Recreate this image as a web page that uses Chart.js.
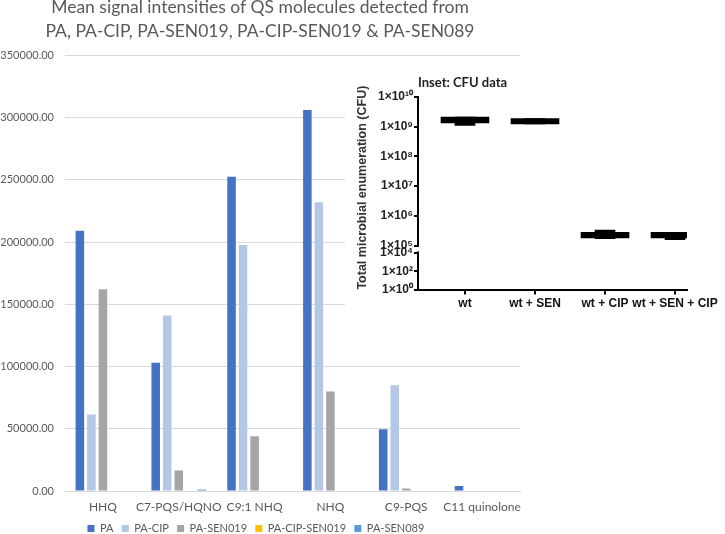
<!DOCTYPE html>
<html lang="en">
<head>
  <meta charset="UTF-8" />
  <title>QS molecules - mean signal intensities</title>
  <script src="https://cdn.jsdelivr.net/npm/chart.js"></script>
  <style>
    body { margin: 0; background: #fff; }
    .wrap { position: relative; width: 725px; height: 534px; }
    .inset { position: absolute; left: 345px; top: 68px; width: 380px; height: 245px; background: #fff; }
  </style>
</head>
<body>
  <div class="wrap">
    <canvas id="qsChart" width="725" height="534"></canvas>
    <div class="inset">
      <canvas id="cfuChart" width="380" height="245"></canvas>
    </div>
  </div>

  <script>
    // main chart data
    const molecules = ['HHQ', 'C7-PQS/HQNO', 'C9:1 NHQ', 'NHQ', 'C9-PQS', 'C11 quinolone'];
    const paVals        = [209000, 103000, 252500, 306000, 49500, 4000];
    const paCipVals     = [61500, 141000, 197500, 232000, 85000, 0];
    const paSen019Vals  = [162000, 16500, 44000, 80000, 2000, 0];
    const paCipSen019Vals = [0, 0, 0, 0, 0, 0];
    const paSen089Vals  = [0, 1200, 0, 0, 0, 0];
    const yTicks = [0, 50000, 100000, 150000, 200000, 250000, 300000, 350000];

    // inset (CFU) data
    const cfuGroups = ['wt', 'wt + SEN', 'wt + CIP', 'wt + SEN + CIP'];
    const cfuMin = [1.1e9, 1.23e9, 1.7e5, 1.56e5];
    const cfuQ1  = [1.35e9, 1.23e9, 1.8e5, 1.8e5];
    const cfuQ3  = [2.1e9, 1.86e9, 2.8e5, 2.8e5];
    const cfuMax = [2.1e9, 1.86e9, 3.3e5, 2.8e5];
    const cfuTicksHi = [1e5, 1e6, 1e7, 1e8, 1e9, 1e10];
    const cfuTicksLo = [1, 1e2, 1e4];

    const grey = '#595959';
    const lato = 'Lato, "Liberation Sans", sans-serif';

    new Chart(document.getElementById('qsChart').getContext('2d'), {
      type: 'bar',
      data: {
        labels: molecules,
        datasets: [
          { label: 'PA', data: paVals, backgroundColor: '#4472C4' },
          { label: 'PA-CIP', data: paCipVals, backgroundColor: '#B4C7E7' },
          { label: 'PA-SEN019', data: paSen019Vals, backgroundColor: '#A5A5A5' },
          { label: 'PA-CIP-SEN019', data: paCipSen019Vals, backgroundColor: '#FFC000' },
          { label: 'PA-SEN089', data: paSen089Vals, backgroundColor: '#5B9BD5' }
        ]
      },
      options: {
        responsive: false,
        animation: false,
        categoryPercentage: 0.76,
        barPercentage: 0.74,
        // negative bottom padding lets the legend's built-in bottom margin fall off the canvas
        layout: { padding: { left: 0, right: 205, top: -4, bottom: -10 } },
        scales: {
          x: {
            grid: { display: false, drawTicks: false },
            border: { color: '#D9D9D9' },
            ticks: { color: grey, font: { family: lato, size: 12, lineHeight: 1 }, padding: 10, maxRotation: 0, autoSkip: false }
          },
          y: {
            min: 0,
            max: 350000,
            afterBuildTicks: axis => { axis.ticks = yTicks.map(v => ({ value: v })); },
            afterFit: a => { a.width = 65; },
            grid: { color: '#D9D9D9', drawTicks: false },
            border: { display: false },
            ticks: {
              color: grey,
              font: { family: lato, size: 11 },
              padding: 11,
              callback: v => Number(v).toFixed(2)
            }
          }
        },
        plugins: {
          title: {
            display: true,
            text: ['Mean signal intensities of QS molecules detected from', 'PA, PA-CIP, PA-SEN019, PA-CIP-SEN019 & PA-SEN089'],
            color: grey,
            font: { family: lato, size: 17.5, weight: 'normal', lineHeight: 1.35 },
            padding: { top: 0, bottom: 12 }
          },
          legend: {
            position: 'bottom',
            labels: {
              color: grey,
              font: { family: lato, size: 11 },
              boxWidth: 7,
              boxHeight: 7,
              padding: 0,
              // trailing space keeps the item gap wide while the legend stays short
              generateLabels: chart => Chart.defaults.plugins.legend.labels.generateLabels(chart)
                .map(item => Object.assign(item, { text: item.text + '\u2003' }))
            }
          },
          tooltip: { enabled: false }
        }
      }
    });

    // superscript helper for 1x10^n tick labels
    const sup = { '0': '⁰', '1': '¹', '2': '²', '3': '³', '4': '⁴', '5': '⁵', '6': '⁶', '7': '⁷', '8': '⁸', '9': '⁹' };
    function powLabel(v) {
      const e = Math.round(Math.log10(v));
      return '1×10' + String(e).split('').map(c => sup[c]).join('');
    }

    // hides the axis line between the two log segments
    const axisBreak = {
      id: 'axisBreak',
      afterDraw(chart) {
        const hi = chart.scales.yHi, lo = chart.scales.yLo;
        const x = chart.chartArea.left;
        const y1 = hi.getPixelForValue(1e5) + 1.5;
        const y2 = lo.getPixelForValue(1e4) - 1.5;
        const c = chart.ctx;
        c.save();
        c.fillStyle = '#fff';
        c.fillRect(x - 2, y1, 4, y2 - y1);
        c.restore();
      }
    };

    const arialB = '"Liberation Sans", Arial, sans-serif';
    const fixY = a => { a.width = 69; };

    new Chart(document.getElementById('cfuChart').getContext('2d'), {
      type: 'bar',
      data: {
        datasets: [
          {
            label: 'range',
            data: cfuGroups.map((g, i) => ({ x: i + 1, y: [cfuMin[i], cfuMax[i]] })),
            backgroundColor: '#000',
            barThickness: 20,
            grouped: false,
            xAxisID: 'x',
            yAxisID: 'yHi'
          },
          {
            label: 'box',
            data: cfuGroups.map((g, i) => ({ x: i + 1, y: [cfuQ1[i], cfuQ3[i]] })),
            backgroundColor: '#000',
            barThickness: 48,
            grouped: false,
            xAxisID: 'x',
            yAxisID: 'yHi'
          }
        ]
      },
      plugins: [axisBreak],
      options: {
        responsive: false,
        animation: false,
        layout: { padding: { left: 4, right: 38, top: 0, bottom: 0 } },
        scales: {
          x: {
            type: 'linear',
            offset: false,
            min: 0.329,
            max: 4.171,
            afterBuildTicks: axis => { axis.ticks = cfuGroups.map((g, i) => ({ value: i + 1 })); },
            afterFit: a => { a.paddingLeft = 0; a.paddingRight = 0; },
            grid: { display: true, offset: false, drawOnChartArea: false, tickLength: 5, color: '#000', lineWidth: 2 },
            border: { color: '#000', width: 2 },
            ticks: {
              color: '#111',
              font: { family: arialB, size: 12, weight: 'bold' },
              maxRotation: 0,
              minRotation: 0,
              autoSkip: false,
              padding: 2,
              callback: v => cfuGroups[Math.round(v) - 1]
            }
          },
          xt: {
            type: 'linear',
            position: 'top',
            offset: false,
            grid: { display: false },
            border: { display: false },
            ticks: { display: false },
            afterFit: a => { a.paddingLeft = 0; a.paddingRight = 0; },
            title: {
              display: true,
              text: 'Inset: CFU data',
              align: 'start',
              color: '#222',
              font: { family: lato, size: 13, weight: 'bold', lineHeight: 1 },
              padding: { top: 8, bottom: 0 }
            }
          },
          yLo: {
            type: 'logarithmic',
            position: 'left',
            stack: 'cfu',
            stackWeight: 46,
            min: 1,
            max: Math.pow(10, 4.8),
            afterBuildTicks: axis => { axis.ticks = cfuTicksLo.map(v => ({ value: v })); },
            afterFit: fixY,
            grid: { display: true, drawOnChartArea: false, tickLength: 4, color: '#000', lineWidth: 2 },
            border: { color: '#000', width: 2 },
            ticks: { color: '#222', font: { family: arialB, size: 12, weight: 'bold' }, padding: 1, autoSkip: false, callback: v => powLabel(v) },
            title: {
              display: true,
              text: 'Total microbial enumeration (CFU)',
              align: 'start',
              color: '#333',
              font: { family: arialB, size: 12.5, weight: 'bold' },
              padding: { top: 6, bottom: 0 }
            }
          },
          yHi: {
            type: 'logarithmic',
            position: 'left',
            stack: 'cfu',
            stackWeight: 155,
            min: 1e5,
            max: 1e10,
            afterBuildTicks: axis => { axis.ticks = cfuTicksHi.map(v => ({ value: v })); },
            afterFit: fixY,
            grid: { display: true, drawOnChartArea: false, tickLength: 4, color: '#000', lineWidth: 2 },
            border: { color: '#000', width: 2 },
            ticks: { color: '#222', font: { family: arialB, size: 12, weight: 'bold' }, padding: 1, autoSkip: false, callback: v => powLabel(v) }
          }
        },
        plugins: {
          legend: { display: false },
          tooltip: { enabled: false }
        }
      }
    });
  </script>
</body>
</html>
